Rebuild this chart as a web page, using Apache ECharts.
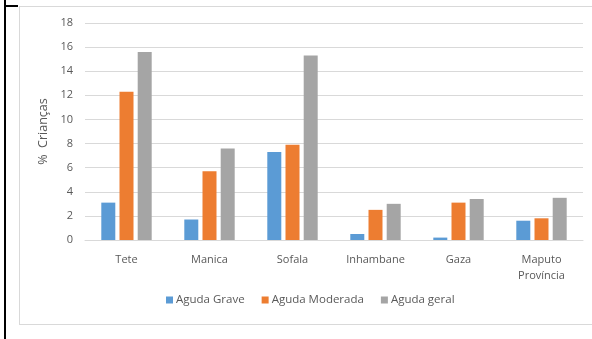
<!DOCTYPE html>
<html>
<head>
<meta charset="utf-8">
<script src="https://cdn.jsdelivr.net/npm/echarts@6/dist/echarts.min.js"></script>
<style>
  body { margin: 0; background: #fff; }
  #wrap { position: relative; width: 592px; height: 339px; overflow: hidden; }
  #vline { position: absolute; left: 4px; top: 0; width: 2px; height: 339px; background: #000; }
  #hline { position: absolute; left: 4px; top: 5px; width: 14px; height: 2px; background: #000; }
  #frame { position: absolute; left: 19px; top: 6px; width: 600px; height: 317px; border: 1px solid #d9d9d9; }
  #main { position: absolute; left: 0; top: 0; width: 592px; height: 339px; }
</style>
</head>
<body>
<div id="wrap">
  <div id="frame"></div>
  <div id="vline"></div>
  <div id="hline"></div>
  <div id="main"></div>
</div>
<script>
var provinces = ['Tete', 'Manica', 'Sofala', 'Inhambane', 'Gaza', 'Maputo\nProvíncia'];
var agudaGrave = [3.1, 1.7, 7.3, 0.5, 0.2, 1.6];
var agudaModerada = [12.3, 5.7, 7.9, 2.5, 3.1, 1.8];
var agudaGeral = [15.6, 7.6, 15.3, 3.0, 3.4, 3.5];

var chart = echarts.init(document.getElementById('main'));
var labelColor = '#595959';
var option = {
  animation: false,
  textStyle: { fontFamily: 'Open Sans, DejaVu Sans, sans-serif' },
  grid: { left: 85, right: 9, top: 23, bottom: 99 },
  legend: {
    data: ['Aguda Grave', 'Aguda Moderada', 'Aguda geral'],
    bottom: 28,
    left: 161,
    itemWidth: 7,
    itemHeight: 7,
    itemGap: 17,
    icon: 'rect',
    textStyle: { color: labelColor, fontSize: 11.5, padding: [0, 0, 0, -2] }
  },
  xAxis: {
    type: 'category',
    data: provinces,
    axisLine: { lineStyle: { color: '#d9d9d9' } },
    axisTick: { show: false },
    axisLabel: { color: labelColor, fontSize: 11, margin: 12, lineHeight: 16 }
  },
  yAxis: {
    type: 'value',
    min: 0,
    max: 18,
    interval: 2,
    name: '%  Crianças',
    nameLocation: 'middle',
    nameGap: 33,
    nameTextStyle: { color: labelColor, fontSize: 12.5 },
    axisLine: { show: false },
    axisTick: { show: false },
    axisLabel: { color: labelColor, fontSize: 11, margin: 12 },
    splitLine: { lineStyle: { color: '#d9d9d9' } }
  },
  series: [
    { name: 'Aguda Grave', type: 'bar', data: agudaGrave, barWidth: 14, barGap: '30%', itemStyle: { color: '#5b9bd5' } },
    { name: 'Aguda Moderada', type: 'bar', data: agudaModerada, barWidth: 14, barGap: '30%', itemStyle: { color: '#ed7d31' } },
    { name: 'Aguda geral', type: 'bar', data: agudaGeral, barWidth: 14, barGap: '30%', itemStyle: { color: '#a5a5a5' } }
  ]
};
chart.setOption(option);
</script>
</body>
</html>
